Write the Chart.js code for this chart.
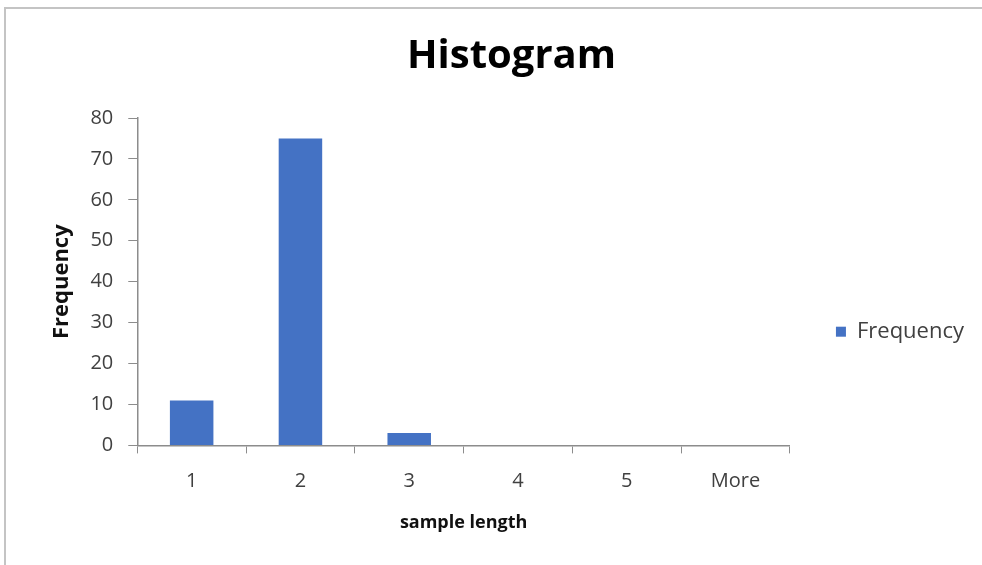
<!DOCTYPE html>
<html>
<head>
<meta charset="utf-8">
<script src="https://cdn.jsdelivr.net/npm/chart.js@4"></script>
<style>
  html, body { margin: 0; padding: 0; background: #fff; }
  #wrap { position: relative; width: 982px; height: 565px; }
  #frame { position: absolute; left: 4px; top: 7px; right: 0; bottom: 0;
           border-top: 2px solid #c4c4c4; border-left: 2px solid #c4c4c4; pointer-events: none; }
</style>
</head>
<body>
<div id="wrap">
  <canvas id="myChart" width="982" height="565"></canvas>
  <div id="frame"></div>
</div>
<script>
// histogram bins and counts
const categories = ['1', '2', '3', '4', '5', 'More'];
const frequency = [11, 75, 3, 0, 0, 0];
const yTicks = [0, 10, 20, 30, 40, 50, 60, 70, 80];

const axisGray = '#8c8c8c';
const textGray = '#404040';
const fontName = "'Open Sans', 'Liberation Sans', sans-serif";

var ctx = document.getElementById('myChart').getContext('2d');
var chart = new Chart(ctx, {
  type: 'bar',
  data: {
    labels: categories,
    datasets: [{
      label: 'Frequency',
      data: frequency,
      backgroundColor: '#4472c4',
      borderWidth: 0,
      barPercentage: 0.4,
      categoryPercentage: 1
    }]
  },
  options: {
    responsive: false,
    animation: false,
    layout: { padding: { top: 33, right: 8, bottom: 31, left: 49 } },
    plugins: {
      title: {
        display: true,
        text: 'Histogram',
        color: '#000',
        font: { family: fontName, size: 40, weight: 'bold' },
        padding: { top: 0, bottom: 37 }
      },
      legend: {
        position: 'right',
        title: { display: true, text: ' ', font: { size: 12 }, padding: { top: 82, bottom: 0 } },
        labels: {
          boxWidth: 10,
          boxHeight: 10,
          padding: 46,
          color: textGray,
          font: { family: fontName, size: 22 }
        }
      },
      tooltip: { enabled: false }
    },
    scales: {
      x: {
        offset: true,
        grid: { display: true, offset: true, drawOnChartArea: false, tickLength: 8, color: axisGray },
        border: { display: true, color: axisGray, width: 1.5 },
        ticks: { color: textGray, padding: 16, font: { family: fontName, size: 20 } },
        title: {
          display: true, text: 'sample length', color: '#111',
          font: { family: fontName, size: 18, weight: 'bold' }, padding: { top: 3, bottom: 0 }
        }
      },
      y: {
        min: 0,
        max: 80,
        afterBuildTicks: function (axis) { axis.ticks = yTicks.map(v => ({ value: v })); },
        grid: { display: true, drawOnChartArea: false, tickLength: 9, color: axisGray },
        border: { display: true, color: axisGray, width: 1.5 },
        ticks: { color: textGray, padding: 15, font: { family: fontName, size: 20 } },
        title: {
          display: true, text: 'Frequency', color: '#111',
          font: { family: fontName, size: 22, weight: 'bold' }, padding: { top: 0, bottom: 0 }
        }
      }
    }
  }
});
</script>
</body>
</html>
